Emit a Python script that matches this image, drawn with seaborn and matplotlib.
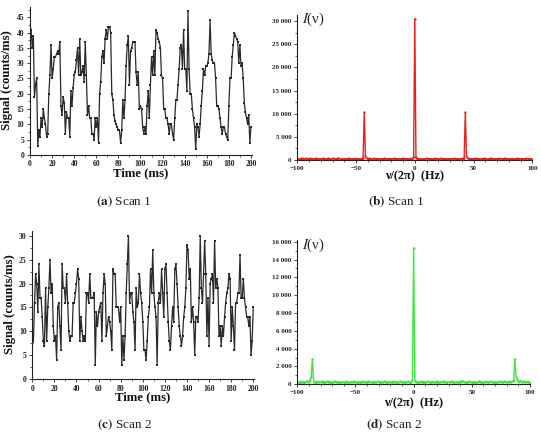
import numpy as np
import matplotlib
matplotlib.use("Agg")
import matplotlib.pyplot as plt
from matplotlib.ticker import MultipleLocator, FuncFormatter
import seaborn as sns

# time series, 1 ms per sample
time_ms = np.arange(201)
scan1_signal = [
    42, 41, 35, 39, 19, 23, 25, 3, 8, 6,
    12, 9, 15, 12, 10, 6, 7, 20, 26, 36,
    25, 28, 32, 32, 33, 34, 33, 37, 16, 13,
    19, 17, 7, 14, 12, 12, 6, 21, 16, 22,
    26, 27, 31, 35, 26, 38, 26, 27, 29, 24,
    37, 26, 13, 16, 12, 12, 7, 7, 5, 12,
    9, 12, 4, 20, 24, 32, 34, 30, 38, 41,
    38, 42, 42, 40, 20, 18, 13, 11, 10, 9,
    8, 8, 4, 8, 18, 12, 18, 29, 36, 39,
    23, 34, 35, 37, 37, 37, 27, 23, 27, 15,
    16, 15, 9, 7, 9, 7, 16, 21, 12, 23,
    32, 26, 34, 26, 41, 40, 38, 37, 35, 26,
    25, 15, 15, 12, 12, 10, 7, 10, 10, 7,
    5, 12, 18, 18, 23, 28, 35, 36, 28, 41,
    28, 28, 21, 47, 28, 20, 20, 15, 12, 9,
    2, 10, 9, 6, 10, 16, 21, 28, 26, 29,
    29, 30, 33, 44, 33, 31, 30, 30, 25, 16,
    16, 15, 12, 9, 7, 9, 9, 7, 6, 5,
    16, 25, 25, 32, 36, 40, 39, 38, 37, 30,
    36, 29, 30, 25, 17, 14, 12, 10, 13, 4,
    9,
]
scan2_signal = [
    7, 8, 16, 22, 20, 14, 24, 17, 17, 13,
    8, 7, 19, 8, 15, 19, 25, 18, 20, 11,
    8, 9, 4, 15, 16, 11, 6, 24, 19, 19,
    16, 22, 16, 10, 8, 9, 9, 16, 16, 18,
    20, 23, 21, 8, 13, 10, 8, 9, 8, 18,
    18, 16, 22, 17, 17, 17, 18, 3, 14, 11,
    14, 15, 16, 8, 18, 22, 20, 9, 11, 13,
    12, 10, 6, 23, 22, 22, 15, 15, 15, 12,
    15, 3, 9, 4, 9, 18, 24, 30, 16, 18, 18,
    14, 12, 6, 19, 15, 16, 22, 18, 16,
    12, 6, 6, 4, 8, 13, 15, 23, 18, 27,
    18, 15, 13, 3, 16, 18, 16, 23,
    18, 13, 23, 24, 18, 12, 8, 6, 11, 15,
    12, 23, 24, 20, 15, 11, 9, 7,
    9, 13, 15, 19, 28, 27, 21, 23, 12, 15,
    12, 5, 13, 13, 12, 17, 30, 19, 16,
    22, 29, 22, 9, 17, 7, 20, 21, 22, 16,
    29, 19, 21, 19, 9, 11, 7, 11, 9,
    13, 16, 18, 19, 22, 21, 8, 15, 11,
    6, 16, 16, 18, 18, 26, 17, 17, 21, 17,
    15, 13, 13, 11, 13, 5, 8, 15,
]

# spectra, 1 Hz per sample from -100 to 100
freq_hz = np.arange(-100, 101)
scan1_spectrum = [
    250, 320, 180, 290, 360, 210, 270, 330, 190, 300,
    240, 380, 220, 310, 260, 200, 350, 280, 230, 310,
    270, 190, 340, 250, 300, 220, 360, 260, 210, 290,
    330, 240, 280, 200, 310, 450, 260, 220, 300, 250,
    190, 320, 270, 230, 350, 260, 210, 300, 240, 280,
    320, 200, 270, 310, 230, 290, 450, 10300, 850, 380,
    260, 330, 210, 290, 250, 340, 220, 280, 300, 240,
    200, 310, 270, 230, 350, 260, 290, 210, 320, 250,
    280, 230, 340, 200, 300, 260, 220, 310, 270, 240,
    330, 210, 290, 250, 310, 230, 270, 340, 260, 600,
    30500,
    550, 280, 240, 320, 260, 210, 300, 270, 230, 340,
    250, 290, 220, 310, 260, 200, 330, 270, 240, 300,
    230, 350, 260, 210, 290, 320, 240, 280, 200, 310,
    270, 230, 340, 250, 290, 220, 300, 260, 240, 330,
    210, 400, 10300, 800, 350, 240, 300, 270, 220, 310,
    260, 330, 200, 280, 250, 310, 230, 290, 360, 240,
    270, 210, 320, 250, 380, 230, 290, 260, 200, 310,
    240, 330, 270, 220, 300, 260, 350, 230, 280, 210,
    300, 250, 320, 240, 270, 200, 340, 260, 290, 230,
    310, 250, 280, 220, 330, 260, 240, 300, 210, 280,
]
scan2_spectrum = [
    200, 280, 150, 330, 240, 300, 180, 260, 350, 220,
    310, 450, 860, 2850, 300, 250, 180, 320, 270, 210,
    260, 340, 190, 300, 230, 280, 350, 200, 310, 250,
    180, 290, 340, 220, 270, 310, 160, 250, 300, 230,
    280, 200, 330, 250, 170, 290, 240, 310, 210, 350,
    260, 190, 300, 240, 280, 160, 330, 220, 270, 310,
    200, 360, 250, 290, 180, 300, 240, 270, 210, 330,
    250, 190, 310, 280, 230, 350, 200, 260, 300, 220,
    290, 170, 320, 250, 210, 300, 270, 190, 340, 240,
    280, 220, 310, 190, 260, 330, 240, 200, 290, 450,
    15300,
    400, 260, 310, 200, 280, 240, 330, 190, 270, 300,
    220, 350, 250, 180, 290, 310, 230, 270, 200, 340,
    260, 190, 300, 280, 220, 330, 240, 170, 310, 250,
    290, 210, 340, 260, 200, 300, 230, 280, 190, 320,
    250, 410, 270, 220, 300, 180, 260, 330, 240, 290,
    200, 310, 250, 190, 280, 340, 220, 270, 300, 180,
    260, 320, 230, 290, 210, 350, 250, 200, 310, 270,
    190, 300, 240, 330, 220, 280, 250, 360, 210, 300,
    260, 320, 230, 290, 350, 450, 2850, 860, 600, 330,
    250, 400, 300, 220, 350, 280, 240, 310, 260, 200,
]

sns.set_style("ticks")
plt.rcParams["font.family"] = ["Liberation Serif", "DejaVu Serif"]
plt.rcParams["mathtext.fontset"] = "stix"

fig = plt.figure(figsize=(5.41, 4.34), dpi=100)

def thousands(v, pos):
    return f"{int(round(v)):,}".replace(",", " ")

def style_axes(ax, tick_size):
    sns.despine(ax=ax)
    for s in ["left", "bottom"]:
        ax.spines[s].set_linewidth(0.8)
        ax.spines[s].set_color("#222222")
    ax.tick_params(which="major", direction="out", length=2.5, width=0.6, pad=1.5,
                   labelsize=tick_size, colors="#222222")
    ax.tick_params(which="minor", direction="out", length=1.5, width=0.5)
    for lab in ax.get_xticklabels() + ax.get_yticklabels():
        lab.set_fontweight("bold")

line_kw = dict(color="#2a2a2a", linewidth=0.9, marker="s", markersize=1.8, markeredgewidth=0)

# (a) scan 1 signal
ax_a = fig.add_axes([0.0555, 0.643, 0.4104, 0.341])
sns.lineplot(x=time_ms, y=scan1_signal, ax=ax_a, **line_kw)
ax_a.set_xlim(0, 201)
ax_a.set_ylim(0, 48.4)
ax_a.xaxis.set_major_locator(MultipleLocator(20))
ax_a.xaxis.set_minor_locator(MultipleLocator(10))
ax_a.yaxis.set_major_locator(MultipleLocator(5))
ax_a.yaxis.set_minor_locator(MultipleLocator(2.5))
style_axes(ax_a, 5.5)

# (c) scan 2 signal
ax_c = fig.add_axes([0.0597, 0.1267, 0.4105, 0.341])
sns.lineplot(x=time_ms, y=scan2_signal, ax=ax_c, **line_kw)
ax_c.set_xlim(0, 201)
ax_c.set_ylim(0, 31)
ax_c.xaxis.set_major_locator(MultipleLocator(20))
ax_c.xaxis.set_minor_locator(MultipleLocator(10))
ax_c.yaxis.set_major_locator(MultipleLocator(5))
ax_c.yaxis.set_minor_locator(MultipleLocator(2.5))
style_axes(ax_c, 5.5)

# (b) scan 1 spectrum
ax_b = fig.add_axes([0.5495, 0.6313, 0.4344, 0.334])
sns.lineplot(x=freq_hz, y=scan1_spectrum, ax=ax_b, color="#e8201c", linewidth=1.0,
             marker="o", markersize=1.6, markeredgewidth=0)
ax_b.set_xlim(-100, 100)
ax_b.set_ylim(0, 31300)
ax_b.xaxis.set_major_locator(MultipleLocator(50))
ax_b.xaxis.set_minor_locator(MultipleLocator(10))
ax_b.yaxis.set_major_locator(MultipleLocator(5000))
ax_b.yaxis.set_minor_locator(MultipleLocator(2500))
ax_b.yaxis.set_major_formatter(FuncFormatter(thousands))
style_axes(ax_b, 5)

# (d) scan 2 spectrum
ax_d = fig.add_axes([0.5495, 0.1145, 0.4301, 0.3325])
sns.lineplot(x=freq_hz, y=scan2_spectrum, ax=ax_d, color="#3ee83a", linewidth=1.0,
             marker="o", markersize=1.6, markeredgewidth=0)
ax_d.set_xlim(-100, 100)
ax_d.set_ylim(0, 16190)
ax_d.xaxis.set_major_locator(MultipleLocator(50))
ax_d.xaxis.set_minor_locator(MultipleLocator(10))
ax_d.yaxis.set_major_locator(MultipleLocator(2000))
ax_d.yaxis.set_minor_locator(MultipleLocator(1000))
ax_d.yaxis.set_major_formatter(FuncFormatter(thousands))
style_axes(ax_d, 5)

for ax in [ax_a, ax_b, ax_c, ax_d]:
    ax.set_xlabel("")
    ax.set_ylabel("")

# axis labels as figure text
lab = dict(fontweight="bold", ha="center", va="center", color="#111111")
fig.text(7.5 / 541, 1 - 80 / 434, "Signal (counts/ms)", rotation=90, fontsize=9.2, **lab)
fig.text(10.5 / 541, 1 - 304 / 434, "Signal (counts/ms)", rotation=90, fontsize=9.2, **lab)
fig.text(140.5 / 541, 1 - 173 / 434, "Time (ms)", fontsize=9.2, **lab)
fig.text(143 / 541, 1 - 397.7 / 434, "Time (ms)", fontsize=9.2, **lab)
fig.text(415 / 541, 1 - 176.7 / 434, "ν/(2π)  (Hz)", fontsize=8.8, **lab)
fig.text(414 / 541, 1 - 403 / 434, "ν/(2π)  (Hz)", fontsize=8.8, **lab)
fig.text(302 / 541, 1 - 19 / 434, r"$\mathit{I}$(ν)", fontsize=10.5, ha="left", va="center")
fig.text(302 / 541, 1 - 245 / 434, r"$\mathit{I}$(ν)", fontsize=10.5, ha="left", va="center")

# sub-captions
cap = dict(fontsize=9.5, ha="center", va="center", color="#222222")
for x, y, letter, name in [(124, 202, "a", "Scan 1"), (396, 202, "b", "Scan 1"),
                           (124, 425, "c", "Scan 2"), (394, 425, "d", "Scan 2")]:
    fig.text(x / 541, 1 - y / 434, f"$\\mathbf{{({letter})}}$ {name}", **cap)

fig.savefig("out.png", dpi=100)
